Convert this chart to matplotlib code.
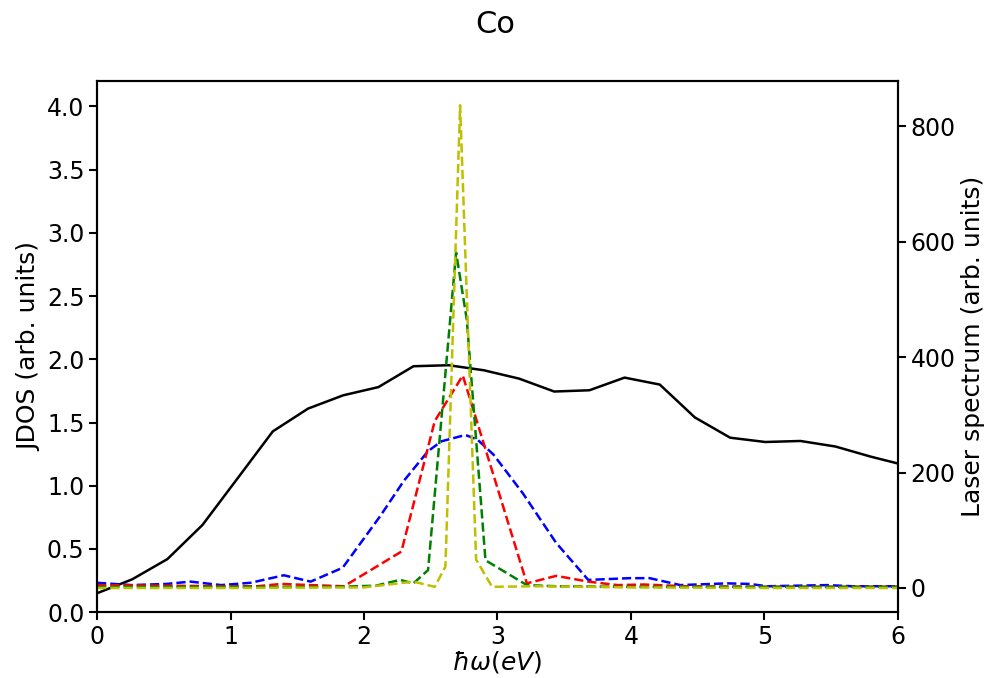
import matplotlib
matplotlib.use("Agg")
import matplotlib.pyplot as plt

# JDOS (left axis)
jdos_x = [0.0, 0.263, 0.527, 0.79, 1.054, 1.317, 1.581, 1.844, 2.108, 2.371,
          2.635, 2.898, 3.162, 3.425, 3.689, 3.952, 4.216, 4.479, 4.743, 5.006,
          5.27, 5.533, 5.797, 6.06]
jdos_y = [0.15, 0.26, 0.42, 0.69, 1.06, 1.43, 1.61, 1.715, 1.78, 1.945,
          1.953, 1.913, 1.847, 1.745, 1.755, 1.855, 1.80, 1.54, 1.38, 1.346,
          1.354, 1.31, 1.23, 1.16]

# laser spectra (right axis)
blue_x = [0.0, 0.26, 0.52, 0.7, 0.93, 1.15, 1.4, 1.6, 1.84, 2.12, 2.3, 2.48,
          2.58, 2.76, 2.85, 2.97, 3.19, 3.44, 3.68, 3.99, 4.14, 4.37, 4.72,
          4.89, 5.02, 5.47, 5.66, 6.0]
blue_y = [9, 5, 7, 11, 5, 9, 22, 11, 35, 124, 186, 237, 254, 265, 257, 231,
          164, 78, 14, 17, 17, 5, 8, 7, 3, 5, 3, 3]

red_x = [0.0, 0.5, 1.0, 1.2, 1.38, 1.6, 1.85, 2.28, 2.53, 2.74, 3.22, 3.44,
         3.68, 3.9, 4.1, 4.4, 5.0, 6.0]
red_y = [5, 4, 3, 3, 7, 5, 3, 63, 289, 368, 8, 21, 11, 5, 6, 3, 2, 2]

green_x = [0.0, 1.0, 1.8, 2.09, 2.27, 2.37, 2.48, 2.69, 2.77, 2.91, 3.22,
           3.44, 4.0, 5.0, 6.0]
green_y = [2, 2, 2, 4, 14, 8, 31, 581, 465, 48, 5, 3, 2, 2, 2]

yellow_x = [0.0, 1.0, 2.0, 2.37, 2.53, 2.61, 2.72, 2.84, 2.96, 3.3, 4.0,
            5.0, 6.0]
yellow_y = [0, 0, 1, 11, 2, 37, 836, 49, 2, 3, 1, 0, 0]

plt.rcParams.update({
    "font.size": 18,
    "xtick.labelsize": 17, "ytick.labelsize": 17,
    "axes.linewidth": 1.5,
    "xtick.major.size": 6, "ytick.major.size": 6,
    "xtick.major.width": 1.5, "ytick.major.width": 1.5,
    "xtick.major.pad": 3, "ytick.major.pad": 3,
})

fig = plt.figure(figsize=(9.9, 6.78), dpi=100)
ax = fig.add_axes([0.098, 0.097, 0.809, 0.7835])
ax2 = ax.twinx()

ax.plot(jdos_x, jdos_y, color="black", lw=1.8)
ax2.plot(blue_x, blue_y, "b--", lw=1.8)
ax2.plot(red_x, red_y, "r--", lw=1.8)
ax2.plot(green_x, green_y, "g--", lw=1.8)
ax2.plot(yellow_x, yellow_y, "y--", lw=1.8)

ax.set_xlim(0, 6)
ax.set_ylim(0, 4.2)
ax2.set_ylim(-42, 878)
ax2.set_yticks([0, 200, 400, 600, 800])

ax.set_xlabel(r"$\hbar\omega(eV)$", labelpad=0)
ax.set_ylabel("JDOS (arb. units)", labelpad=4)
ax2.set_ylabel("Laser spectrum (arb. units)", labelpad=4)
fig.suptitle("Co", fontsize=22, y=0.985)

fig.savefig("out.png", dpi=100)
